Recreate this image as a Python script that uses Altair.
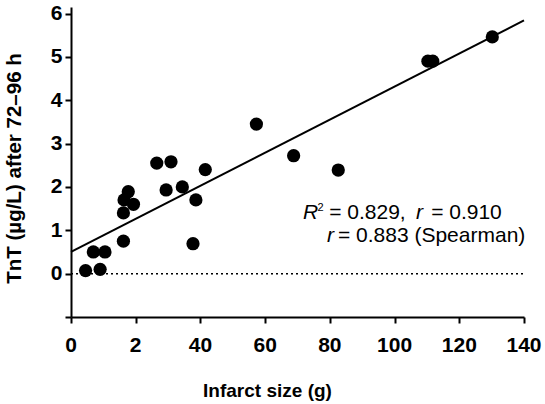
import altair as alt
import pandas as pd

# Scatter data (infarct size g, TnT µg/L)
infarct = [4.5, 9.0, 6.9, 10.5, 16.2, 16.2, 16.4, 17.7, 19.3, 26.5, 30.9, 29.4,
           34.4, 38.6, 37.7, 41.5, 57.3, 68.8, 82.6, 110.3, 111.8, 130.2]
tnt = [0.07, 0.10, 0.50, 0.50, 0.75, 1.40, 1.70, 1.89, 1.60, 2.55, 2.58, 1.93,
       2.00, 1.70, 0.69, 2.40, 3.45, 2.72, 2.39, 4.90, 4.90, 5.46]

# Regression line end points
fit_x = [0, 140]
fit_y = [0.50, 5.84]

# Zero reference line
zero_x = [0, 140]
zero_y = [0, 0]

# Annotation pieces
ann_x = [71.7, 79.8, 106.6, 111.3, 79.1, 82.5]
ann_y = [1.26, 1.26, 1.26, 1.26, 0.73, 0.73]
ann_text = ["R", "= 0.829,", "r", "= 0.910", "r", "= 0.883 (Spearman)"]
ann_style = ["italic", "normal", "italic", "normal", "italic", "normal"]
sup_x = [76.2]
sup_y = [1.45]
sup_text = ["2"]

# x tick labels as printed (label at 20 reads "2")
x_label_values = [0, 20, 40, 60, 80, 100, 120, 140]
x_label_texts = ["0", "2", "40", "60", "80", "100", "120", "140"]

x_ticks = list(range(0, 141, 5))
y_ticks = [v / 2 for v in range(-2, 13)]

FONT = "Liberation Sans"

pts = pd.DataFrame({"x": infarct, "y": tnt})
fit = pd.DataFrame({"x": fit_x, "y": fit_y})
zero = pd.DataFrame({"x": zero_x, "y": zero_y})
ann = pd.DataFrame({"x": ann_x, "y": ann_y, "t": ann_text, "s": ann_style})
sup = pd.DataFrame({"x": sup_x, "y": sup_y, "t": sup_text})
xlab = pd.DataFrame({"x": x_label_values, "t": x_label_texts})

xscale = alt.Scale(domain=[0, 140], nice=False, zero=False)
yscale = alt.Scale(domain=[-1, 6.15], nice=False, zero=False)

xaxis = alt.Axis(
    title="Infarct size (g)", values=x_ticks, labels=False,
    tickSize={"condition": {"test": "datum.value % 20 === 0", "value": 6}, "value": 3},
    grid=False, domainColor="black", domainWidth=2, tickColor="black", tickWidth=2,
    titleFont=FONT, titleFontSize=19, titleFontWeight="bold", titleColor="black",
    titleX=196, titleY=79, titleBaseline="alphabetic", titleAlign="center",
)
yaxis = alt.Axis(
    title="TnT (µg/L) after 72–96 h", values=y_ticks, format="d",
    labelExpr="(datum.value % 1 === 0 && datum.value >= 0) ? datum.label : ''",
    tickSize={"condition": {"test": "datum.value % 1 === 0", "value": 6}, "value": 3},
    grid=False, domainColor="black", domainWidth=2, tickColor="black", tickWidth=2,
    labelFont=FONT, labelFontSize=21, labelFontWeight="bold", labelColor="black",
    labelPadding=3, labelOverlap=False, labelFlush=False,
    titleFont=FONT, titleFontSize=20.5, titleFontWeight="bold", titleColor="black",
    titleX=-57, titleY=161, titleAngle=-90, titleAlign="center", titleBaseline="middle",
)

zero_line = alt.Chart(zero).mark_line(color="black", strokeDash=[2, 3], strokeWidth=1.5).encode(
    x=alt.X("x:Q", scale=xscale, axis=xaxis),
    y=alt.Y("y:Q", scale=yscale, axis=yaxis),
)
fit_line = alt.Chart(fit).mark_line(color="black", strokeWidth=2).encode(
    x=alt.X("x:Q", scale=xscale), y=alt.Y("y:Q", scale=yscale)
)
points = alt.Chart(pts).mark_circle(color="black", opacity=1, size=175).encode(
    x=alt.X("x:Q", scale=xscale), y=alt.Y("y:Q", scale=yscale)
)
x_labels = alt.Chart(xlab).mark_text(
    align="center", baseline="alphabetic", font=FONT, fontSize=21, fontWeight="bold", color="black"
).encode(x=alt.X("x:Q", scale=xscale), y=alt.value(345), text="t:N")
ann_normal = alt.Chart(ann).transform_filter("datum.s === 'normal'").mark_text(
    align="left", baseline="alphabetic", font=FONT, fontSize=21, color="black"
).encode(x=alt.X("x:Q", scale=xscale), y=alt.Y("y:Q", scale=yscale), text="t:N")
ann_italic = alt.Chart(ann).transform_filter("datum.s === 'italic'").mark_text(
    align="left", baseline="alphabetic", font=FONT, fontSize=21, fontStyle="italic", color="black"
).encode(x=alt.X("x:Q", scale=xscale), y=alt.Y("y:Q", scale=yscale), text="t:N")
ann_sup = alt.Chart(sup).mark_text(
    align="left", baseline="alphabetic", font=FONT, fontSize=11, color="black"
).encode(x=alt.X("x:Q", scale=xscale), y=alt.Y("y:Q", scale=yscale), text="t:N")

chart = alt.layer(zero_line, fit_line, points, x_labels, ann_normal, ann_italic, ann_sup).properties(
    width=453, height=310,
    autosize=alt.AutoSizeParams(type="none"),
    padding={"left": 71, "top": 7, "right": 21, "bottom": 87},
    background="white",
).configure_view(stroke=None)

chart.save("out.html", embed_options={"renderer": "svg", "actions": False})
